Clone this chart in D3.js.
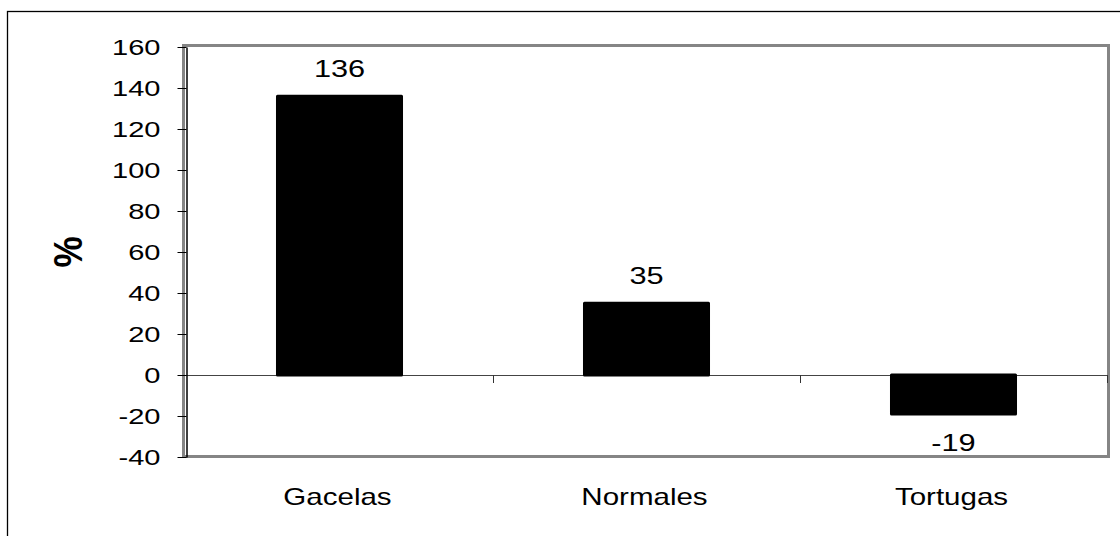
<!DOCTYPE html>
<html>
<head>
<meta charset="utf-8">
<script src="https://cdn.jsdelivr.net/npm/d3@7/dist/d3.min.js"></script>
<style>
  html, body { margin: 0; padding: 0; background: #fff; }
  svg { display: block; }
  text { font-family: "Liberation Sans", Arial, sans-serif; fill: #000; }
</style>
</head>
<body>
<svg id="chart" width="1120" height="536"></svg>
<script>
// Growth by company type, in percent
const categories = ["Gacelas", "Normales", "Tortugas"];
const values = [136, 35, -19];
const yTicks = [-40, -20, 0, 20, 40, 60, 80, 100, 120, 140, 160];

const svg = d3.select("#chart");
const W = 1120, H = 536;

// Plot-area bounds
const plotLeft = 186, plotRight = 1107, plotTop = 47, plotBottom = 457;

// Text in this chart is drawn slightly widened
const textStretch = 1.28;

// Outer chart frame
svg.append("rect")
  .attr("x", 7.5).attr("y", 11.5)
  .attr("width", W + 20).attr("height", H + 20)
  .attr("fill", "#fff").attr("stroke", "#000").attr("stroke-width", 1.3);

const x = d3.scaleBand()
  .domain(categories)
  .range([plotLeft, plotRight])
  .paddingInner(0.596)
  .paddingOuter(0.298);

const y = d3.scaleLinear()
  .domain([-40, 160])
  .range([plotBottom, plotTop]);

// Plot-area frame (gray)
svg.append("rect")
  .attr("x", plotLeft - 2.5).attr("y", plotTop - 1.5)
  .attr("width", plotRight - plotLeft + 4).attr("height", plotBottom - plotTop + 1)
  .attr("fill", "#fff").attr("stroke", "#858585").attr("stroke-width", 3);

// Zero line
svg.append("line")
  .attr("x1", plotLeft).attr("x2", plotRight + 1)
  .attr("y1", Math.round(y(0)) + 0.5).attr("y2", Math.round(y(0)) + 0.5)
  .attr("stroke", "#444").attr("stroke-width", 1);

// Category tick marks hanging from the zero line
const step = x.step();
const boundaries = d3.range(1, categories.length + 1).map(i => plotLeft + i * step);
svg.selectAll("line.ctick")
  .data(boundaries)
  .join("line")
  .attr("class", "ctick")
  .attr("x1", d => Math.round(d) + 0.5).attr("x2", d => Math.round(d) + 0.5)
  .attr("y1", Math.round(y(0))).attr("y2", Math.round(y(0)) + 8)
  .attr("stroke", "#333").attr("stroke-width", 1);

// Bars
svg.selectAll("rect.bar")
  .data(values)
  .join("rect")
  .attr("class", "bar")
  .attr("x", (d, i) => x(categories[i]))
  .attr("width", x.bandwidth())
  .attr("y", d => y(Math.max(0, d)))
  .attr("height", d => Math.abs(y(d) - y(0)))
  .attr("fill", "#000")
  .attr("stroke", "#000")
  .attr("stroke-width", 3)
  .attr("stroke-linejoin", "round");

// Value labels
svg.selectAll("text.val")
  .data(values)
  .join("text")
  .attr("class", "val")
  .attr("transform", (d, i) => {
    const cx = x(categories[i]) + x.bandwidth() / 2;
    const cy = d >= 0 ? y(d) - 19 : y(d) + 37.5;
    return `translate(${cx},${cy}) scale(${textStretch},1)`;
  })
  .attr("text-anchor", "middle")
  .attr("font-size", 24)
  .text(d => String(d));

// Left value axis (plain hyphen for negatives)
const yAxis = d3.axisLeft(y)
  .tickValues(yTicks)
  .tickFormat(d => String(d))
  .tickSize(9).tickSizeOuter(0).tickPadding(17);
const gy = svg.append("g")
  .attr("transform", `translate(${plotLeft + 0.5},0)`)
  .call(yAxis);
gy.select(".domain").attr("stroke", "#000").attr("stroke-width", 1.5);
gy.selectAll(".tick line").attr("stroke", "#000").attr("stroke-width", 1);
gy.selectAll(".tick text")
  .attr("x", 0)
  .attr("dy", "0.36em")
  .attr("transform", `translate(-26,0) scale(${textStretch + 0.04},1)`)
  .attr("font-size", 22)
  .attr("font-family", "Liberation Sans, Arial, sans-serif")
  .attr("fill", "#000");

// Category labels
svg.selectAll("text.cat")
  .data(categories)
  .join("text")
  .attr("class", "cat")
  .attr("transform", d => `translate(${x(d) + x.bandwidth() / 2 - 2},505) scale(${textStretch - 0.05},1)`)
  .attr("text-anchor", "middle")
  .attr("font-size", 24)
  .text(d => d);

// Axis title
svg.append("text")
  .attr("transform", "translate(82,252) rotate(-90) scale(1,1.15)")
  .attr("text-anchor", "middle")
  .attr("font-size", 35)
  .attr("font-weight", "bold")
  .text("%");
</script>
</body>
</html>
